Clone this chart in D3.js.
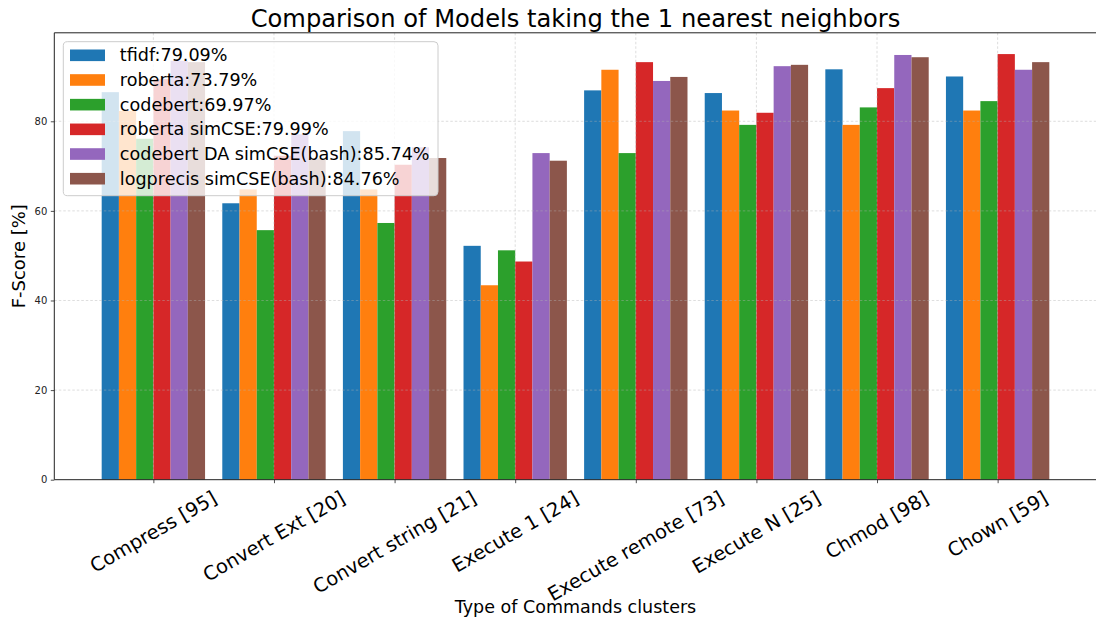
<!DOCTYPE html>
<html>
<head>
<meta charset="utf-8">
<script src="https://cdn.jsdelivr.net/npm/d3@7/dist/d3.min.js"></script>
<style>
  html, body { margin: 0; padding: 0; background: #fff; }
  svg { display: block; font-family: "DejaVu Sans", sans-serif; }
</style>
</head>
<body>
<svg id="chart" width="1096" height="626"></svg>
<script>
// Command clusters (with sample counts) on the x axis
const categories = [
  "Compress [95]", "Convert Ext [20]", "Convert string [21]", "Execute 1 [24]",
  "Execute remote [73]", "Execute N [25]", "Chmod [98]", "Chown [59]"
];

// Models compared, with their overall average F-score shown in the legend
const models = [
  "tfidf", "roberta", "codebert", "roberta simCSE",
  "codebert DA simCSE(bash)", "logprecis simCSE(bash)"
];
const averages = [79.09, 73.79, 69.97, 79.99, 85.74, 84.76];

// F-score [%] per model, one value per cluster
const tfidf          = [86.5, 61.7, 77.8, 52.2, 86.9, 86.3, 91.6, 90.0];
const roberta        = [82.3, 64.8, 64.8, 43.4, 91.5, 82.4, 79.2, 82.4];
const codebert       = [76.1, 55.7, 57.3, 51.2, 72.9, 79.2, 83.1, 84.5];
const robertaSimCSE  = [89.4, 72.3, 70.3, 48.7, 93.2, 81.9, 87.4, 95.0];
const codebertDA     = [93.5, 77.1, 74.2, 72.9, 89.0, 92.3, 94.8, 91.5];
const logprecis      = [93.2, 71.7, 71.8, 71.2, 89.9, 92.6, 94.3, 93.2];

const series = [tfidf, roberta, codebert, robertaSimCSE, codebertDA, logprecis];

const yTicks = [0, 20, 40, 60, 80];
const colors = ["#1f77b4", "#ff7f0e", "#2ca02c", "#d62728", "#9467bd", "#8c564b"];

(function draw() {
  const svg = d3.select("#chart");
  const W = 1096;

  // Plot area
  const pL = 54.3, pR = 1096.7, pT = 32.8, pB = 479.7;
  const nSeries = series.length;
  const barW = 1 / (nSeries + 1);

  // x in category-index units, padded like an autoscaled bar plot
  const xMin = -nSeries / 2 * barW, xMax = categories.length - 1 + nSeries / 2 * barW;
  const pad = 0.05 * (xMax - xMin);
  const x = d3.scaleLinear().domain([xMin - pad, xMax + pad]).range([pL, pR]);
  const yMax = d3.max(series, s => d3.max(s)) * 1.05;
  const y = d3.scaleLinear().domain([0, yMax]).range([pB, pT]);

  // Bars
  const bars = svg.append("g");
  series.forEach((vals, j) => {
    bars.selectAll(null)
      .data(vals)
      .enter().append("rect")
      .attr("x", (d, i) => x(i + (j - nSeries / 2) * barW))
      .attr("width", x(barW) - x(0))
      .attr("y", d => y(d))
      .attr("height", d => y(0) - y(d))
      .attr("fill", colors[j]);
  });

  // Dashed grid, drawn over the bars
  const grid = svg.append("g")
    .attr("stroke", "#b0b0b0")
    .attr("stroke-opacity", 0.55)
    .attr("stroke-width", 0.8)
    .attr("stroke-dasharray", "2.5,2");
  grid.selectAll(null).data(yTicks.filter(t => t > 0)).enter().append("line")
    .attr("x1", pL).attr("x2", pR)
    .attr("y1", d => y(d)).attr("y2", d => y(d));
  grid.selectAll(null).data(categories).enter().append("line")
    .attr("x1", (d, i) => x(i)).attr("x2", (d, i) => x(i))
    .attr("y1", pT).attr("y2", pB);

  // Y axis
  const yAxis = svg.append("g")
    .attr("transform", `translate(${pL},0)`)
    .call(d3.axisLeft(y).tickValues(yTicks).tickSize(3.5).tickPadding(3.5).tickFormat(d3.format("d")));
  yAxis.select(".domain").remove();
  yAxis.selectAll("text").attr("font-size", 10).attr("fill", "#222").attr("font-family", "DejaVu Sans");
  yAxis.selectAll("line").attr("stroke", "#222").attr("stroke-width", 0.8);

  // X axis ticks
  const xAxis = svg.append("g")
    .attr("transform", `translate(0,${pB})`)
    .call(d3.axisBottom(x).tickValues(d3.range(categories.length)).tickSize(3.5).tickFormat(""));
  xAxis.select(".domain").remove();
  xAxis.selectAll("line").attr("stroke", "#222").attr("stroke-width", 0.8);

  // Rotated category labels, centred under each tick
  const fs = 19.4, angle = 30, rad = angle * Math.PI / 180;
  const labels = svg.append("g");
  categories.forEach((c, i) => {
    const t = labels.append("text")
      .attr("font-size", fs)
      .attr("fill", "#000")
      .attr("text-anchor", "middle")
      .attr("dominant-baseline", "central")
      .text(c);
    const w = t.node().getComputedTextLength();
    const h = fs * 1.16;
    const boxH = w * Math.sin(rad) + h * Math.cos(rad);
    const cy = pB + 3.5 + 3.5 + boxH / 2;
    t.attr("transform", `translate(${x(i)},${cy}) rotate(${-angle})`);
  });

  // Frame
  const frame = svg.append("g").attr("stroke", "#222").attr("stroke-width", 1);
  frame.append("line").attr("x1", pL).attr("x2", pL).attr("y1", pT).attr("y2", pB);
  frame.append("line").attr("x1", pL).attr("x2", W).attr("y1", pB).attr("y2", pB);
  frame.append("line").attr("x1", pL).attr("x2", W).attr("y1", pT).attr("y2", pT);

  // Titles
  svg.append("text")
    .attr("x", (pL + pR) / 2).attr("y", 26.5)
    .attr("text-anchor", "middle").attr("font-size", 24.2)
    .text("Comparison of Models taking the 1 nearest neighbors");
  svg.append("text")
    .attr("x", (pL + pR) / 2).attr("y", 613)
    .attr("text-anchor", "middle").attr("font-size", 17.5)
    .text("Type of Commands clusters");
  svg.append("text")
    .attr("transform", `translate(24.5,${(pT + pB) / 2}) rotate(-90)`)
    .attr("text-anchor", "middle").attr("font-size", 18)
    .text("F-Score [%]");

  // Legend
  const lg = svg.append("g");
  lg.append("rect")
    .attr("x", 63.3).attr("y", 41.7).attr("width", 374.7).attr("height", 154)
    .attr("rx", 4).attr("fill", "#fff").attr("fill-opacity", 0.8)
    .attr("stroke", "#cccccc").attr("stroke-width", 1);
  const rowY = d3.scaleLinear().domain([0, nSeries - 1]).range([55.3, 178.7]);
  models.forEach((m, j) => {
    lg.append("rect")
      .attr("x", 70).attr("y", rowY(j) - 5.8).attr("width", 35).attr("height", 11.6)
      .attr("fill", colors[j]);
    lg.append("text")
      .attr("x", 119.8).attr("y", rowY(j))
      .attr("dominant-baseline", "central")
      .attr("font-size", 17.6)
      .text(`${m}:${averages[j].toFixed(2)}%`);
  });
})();
</script>
</body>
</html>
